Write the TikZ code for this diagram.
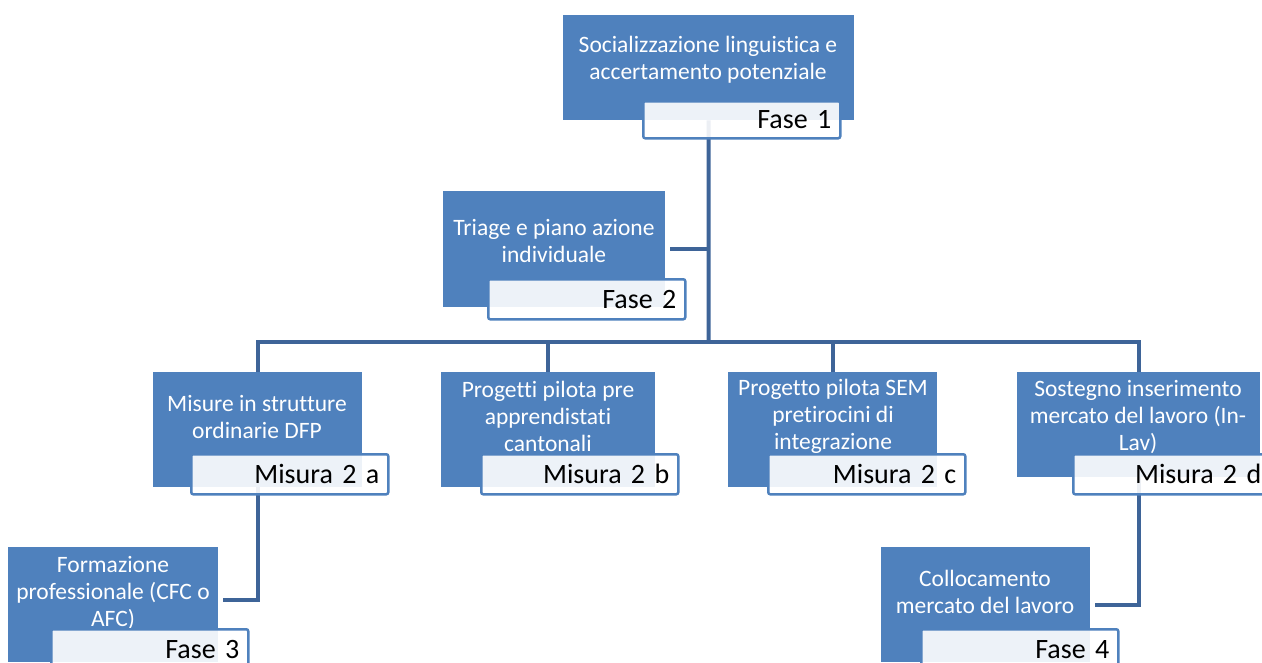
\documentclass[tikz,border=0pt]{standalone}
\usepackage{fontspec}
\setmainfont{Carlito}[Ligatures=NoCommon]
\usetikzlibrary{positioning}
\definecolor{boxblue}{RGB}{79,129,189}
\definecolor{edgeblue}{RGB}{62,100,152}
\tikzset{phase node/.style={rectangle, fill=boxblue, anchor=north west,
    inner sep=0pt, minimum width=#1, minimum height=115pt}}
\tikzset{phase text/.style={text=white, align=center, inner sep=0pt,
    font=\fontsize{23.5}{27}\selectfont}}
\tikzset{tag node/.style={rectangle, draw=boxblue, line width=2.5pt,
    rounded corners=2pt, fill=white, fill opacity=0.9, text opacity=1,
    anchor=north west, inner xsep=9pt, inner ysep=0pt, text width=179pt,
    minimum height=40pt, align=right, font=\fontsize{28}{30}\selectfont}}
\tikzset{regular edge/.style={draw=edgeblue, line width=4pt}}

\begin{document}
\begin{tikzpicture}
  [x=1pt, y=-1pt]
  \clip (0,0) rectangle (1262,662);

  \node [phase node=291pt, minimum height=105pt] (fase1) at ( 563,  15) {};
  \node [phase node=222pt, minimum height=116pt] (fase2) at ( 443, 191) {};
  \node [phase node=209pt]                       (mis2a) at ( 153, 372) {};
  \node [phase node=214pt]                       (mis2b) at ( 441, 372) {};
  \node [phase node=209pt]                       (mis2c) at ( 728, 372) {};
  \node [phase node=243pt, minimum height=105pt] (mis2d) at (1017, 372) {};
  \node [phase node=210pt]                       (fase3) at (   8, 547) {};
  \node [phase node=209pt]                       (fase4) at ( 881, 547) {};

  \node [phase text] (fase1 text) at ( 708,  60) {Socializzazione linguistica e\\accertamento potenziale};
  \node [phase text] (fase2 text) at ( 554, 241) {Triage e piano azione\\individuale};
  \node [phase text] (mis2a text) at ( 257, 417) {Misure in strutture\\ordinarie DFP};
  \node [phase text] (mis2b text) at ( 548, 416) {Progetti pilota pre\\apprendistati\\cantonali};
  \node [phase text] (mis2c text) at ( 833, 416) {Progetto pilota SEM\\pretirocini di\\integrazione};
  \node [phase text] (mis2d text) at (1138, 417) {Sostegno inserimento\\mercato del lavoro (In-\\Lav)};
  \node [phase text] (fase3 text) at ( 113, 593) {Formazione\\professionale (CFC o\\AFC)};
  \node [phase text] (fase4 text) at ( 985, 592) {Collocamento\\mercato del lavoro};

  \coordinate (hub) at (708.5, 342);

  \draw [regular edge] (fase1.south) -- (hub);
  \draw [regular edge] ([xshift=5pt]fase2.east) -- (fase2.east -| hub);
  \draw [regular edge] (mis2a.north) |- (hub) -| (mis2d.north);
  \draw [regular edge] (hub -| mis2b.north) -- (mis2b.north);
  \draw [regular edge] (hub -| mis2c.north) -- (mis2c.north);
  \draw [regular edge] (mis2a.south) |- ([xshift=5pt, yshift=4.5pt]fase3.east);
  \draw [regular edge] (mis2d.south) |- ([xshift=5pt, yshift=-0.5pt]fase4.east);

  \node [tag node, minimum height=37pt] (fase1 tag) at ( 642, 100) {Fase 1};
  \node [tag node] (fase2 tag) at ( 487, 278) {Fase 2};
  \node [tag node] (mis2a tag) at ( 190, 453) {Misura 2 a};
  \node [tag node] (mis2b tag) at ( 480, 453) {Misura 2 b};
  \node [tag node] (mis2c tag) at ( 767, 453) {Misura 2 c};
  \node [tag node] (mis2d tag) at (1072, 453) {Misura 2 d};
  \node [tag node] (fase3 tag) at (  50, 628) {Fase 3};
  \node [tag node] (fase4 tag) at ( 920, 628) {Fase 4};
\end{tikzpicture}
\end{document}
